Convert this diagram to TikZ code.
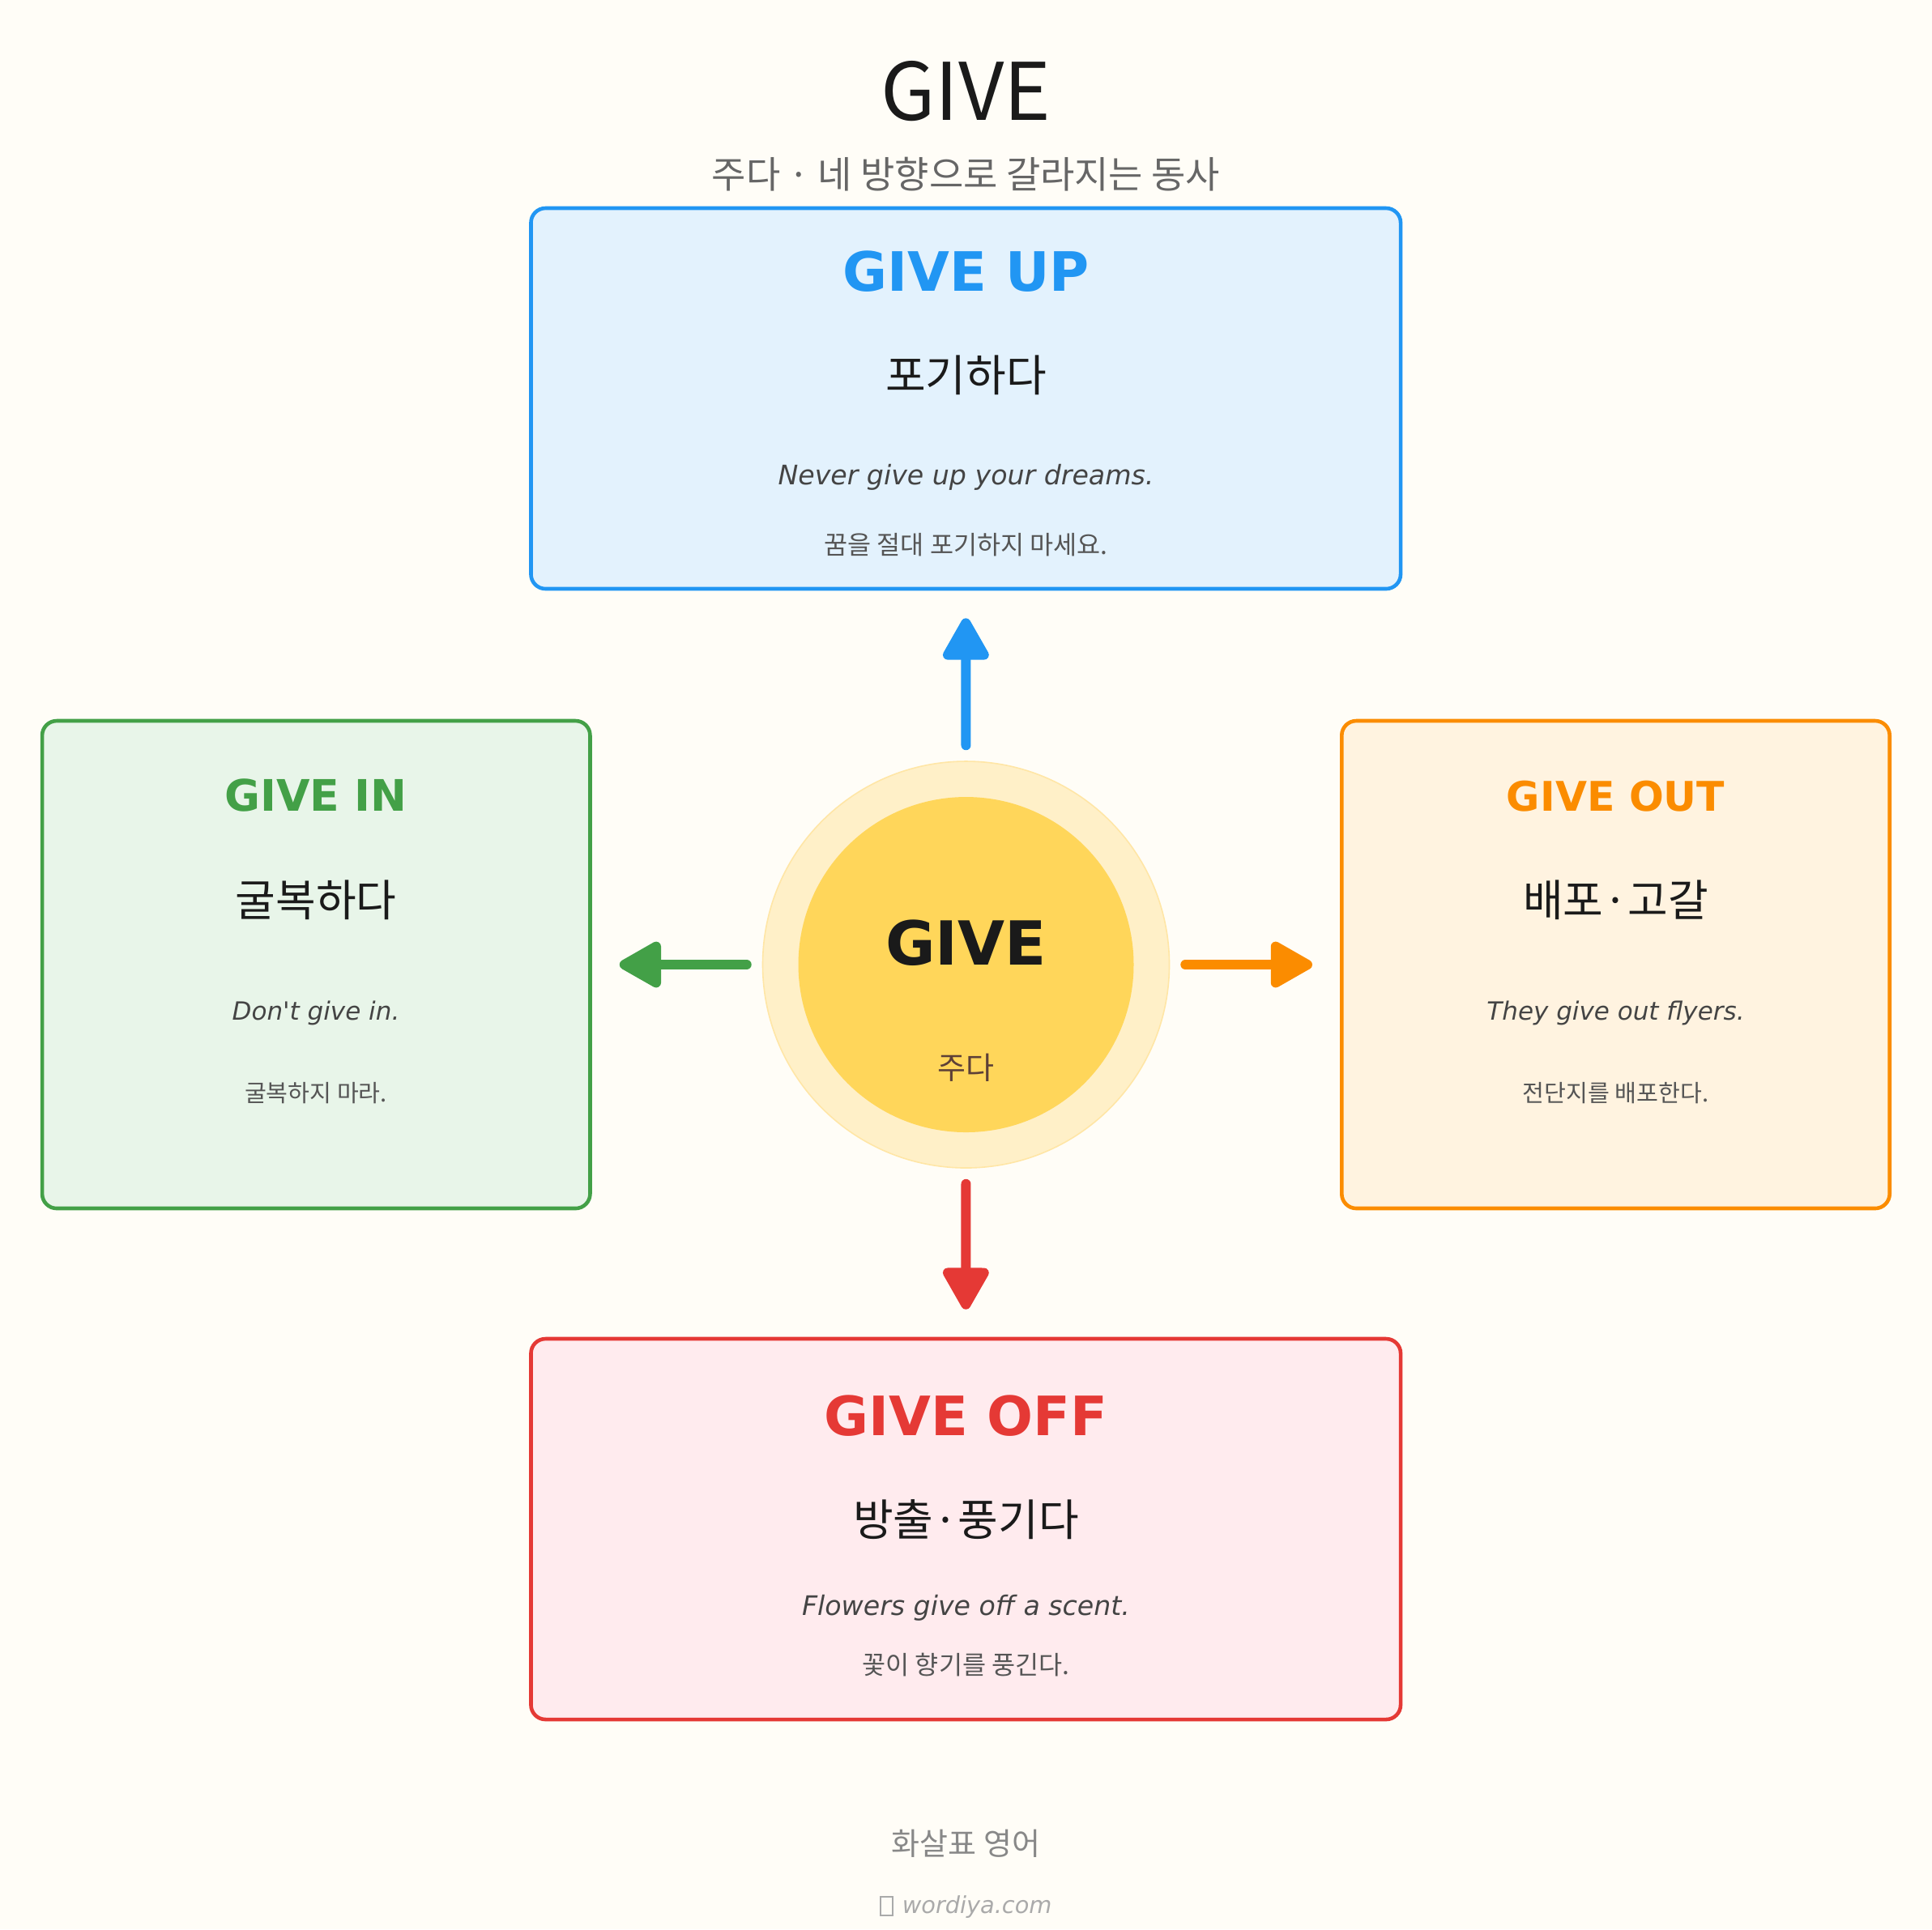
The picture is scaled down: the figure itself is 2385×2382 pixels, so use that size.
\documentclass[tikz,border=0pt]{standalone}
\usepackage{fontspec}
\setmainfont{DejaVu Sans}
\newfontfamily\dvplain{DejaVu Sans}
\newfontfamily\kr{Noto Sans CJK KR}
\usetikzlibrary{arrows.meta}
\definecolor{bg}{HTML}{FFFDF7}
\definecolor{cblue}{HTML}{2196F3}
\definecolor{fblue}{HTML}{E3F2FD}
\definecolor{cgreen}{HTML}{43A047}
\definecolor{fgreen}{HTML}{E8F5E9}
\definecolor{corange}{HTML}{FB8C00}
\definecolor{forange}{HTML}{FFF3E0}
\definecolor{cred}{HTML}{E53935}
\definecolor{fred}{HTML}{FFEBEE}
\definecolor{halofill}{HTML}{FFF0C8}
\definecolor{halodraw}{HTML}{FFE6A6}
\definecolor{corefill}{HTML}{FFD65A}
\definecolor{dark}{HTML}{1A1A1A}
\definecolor{extxt}{HTML}{444444}
\definecolor{kextxt}{HTML}{555555}
\definecolor{subtxt}{HTML}{666666}
\definecolor{foottxt}{HTML}{888888}
\definecolor{webtxt}{HTML}{AAAAAA}
\definecolor{brown}{HTML}{5D4037}
\newcommand\fsz[1]{\fontsize{#1}{#1}\selectfont}
\begin{document}
\begin{tikzpicture}[x=0.25pt,y=-0.25pt,
  txt/.style={inner sep=0pt, anchor=base},
  card/.style={draw=#1, line width=1.15pt, rounded corners=4.5pt, inner sep=0pt},
  widecard/.style={card=#1, minimum width=268.4pt, minimum height=117.5pt},
  sidecard/.style={card=#1, minimum width=169.1pt, minimum height=150.5pt},
  arr/.style={draw=#1, line width=3pt, line cap=round,
    -{Triangle[length=14.5pt, width=15.5pt, round]},
    shorten <=4.75pt, shorten >=8.5pt},
  head/.style={txt, font=\bfseries\fsz{#1}},
  mean/.style={txt, font=\kr\fsz{13.5}, text=dark},
  ex/.style={txt, font=\dvplain\itshape\fsz{#1}, text=extxt},
  kex/.style={txt, font=\kr\fsz{#1}, text=kextxt}]
\fill[bg] (0,0) rectangle (2385,2382);
\useasboundingbox (0,0) rectangle (2385,2382);

% title
\node[txt, font=\kr\fsz{24.5}, text=dark] (title) at (1192.5,148) {GIVE};
\node[txt, font=\kr\fsz{11.5}, text=subtxt] (subtitle) at (1192.5,232) {주다 · 네 방향으로 갈라지는 동사};

% cards
\node[widecard=cblue, fill=fblue] (up) at (1192.25,492) {};
\node[sidecard=cgreen, fill=fgreen] (in) at (390.25,1191) {};
\node[sidecard=corange, fill=forange] (out) at (1994.5,1191) {};
\node[widecard=cred, fill=fred] (off) at (1192.25,1888) {};

% GIVE UP
\node[head=16.75, text=cblue] (upT) at (1192.5,359) {GIVE UP};
\node[mean] (upM) at (1192.5,483) {포기하다};
\node[ex=8.3] (upE) at (1192.5,598) {Never give up your dreams.};
\node[kex=7.9] (upK) at (1192.5,684) {꿈을 절대 포기하지 마세요.};

% GIVE IN
\node[head=13.4, text=cgreen] (inT) at (390,1001) {GIVE IN};
\node[mean] (inM) at (390,1131) {굴복하다};
\node[ex=7.75] (inE) at (390,1259.5) {Don't give in.};
\node[kex=7.3] (inK) at (390,1360) {굴복하지 마라.};

% GIVE OUT
\node[head=12.6, text=corange] (outT) at (1994.5,1001) {GIVE OUT};
\node[mean] (outM) at (1994.5,1131) {배포·고갈};
\node[ex=7.75] (outE) at (1994.5,1259.5) {They give out flyers.};
\node[kex=7.3] (outK) at (1994.5,1360) {전단지를 배포한다.};

% GIVE OFF
\node[head=16.75, text=cred] (offT) at (1192.5,1772) {GIVE OFF};
\node[mean] (offM) at (1192.5,1896) {방출·풍기다};
\node[ex=8.3] (offE) at (1192.5,1994) {Flowers give off a scent.};
\node[kex=7.9] (offK) at (1192.5,2067) {꽃이 향기를 풍긴다.};

% center
\node[circle, minimum size=125.5pt, inner sep=0pt, fill=halofill, draw=halodraw, line width=0.4pt] (halo) at (1192.5,1191) {};
\node[circle, minimum size=103.5pt, inner sep=0pt, fill=corefill] (core) at (1192.5,1191) {};
\node[head=18.75, text=dark] (coreT) at (1192.5,1191) {GIVE};
\node[txt, font=\kr\fsz{9.5}, text=brown] (coreK) at (1192.5,1332) {주다};

% arrows
\draw[arr=cblue] (halo.north) -- (up.south);
\draw[arr=cgreen] (halo.west) -- (in.east);
\draw[arr=corange] (halo.east) -- (out.west);
\draw[arr=cred] (halo.south) -- (off.north);

% footer
\node[txt, font=\kr\fsz{9.5}, text=foottxt] (foot) at (1192.5,2290) {화살표 영어};
\node[draw=webtxt, line width=0.45pt, inner sep=0pt, minimum width=3.6pt, minimum height=5.6pt] (tofu) at (1094.5,2353.5) {};
\node[txt, anchor=base west, font=\itshape\fsz{7.2}, text=webtxt] (web) at (1113,2362) {wordiya.com};
\end{tikzpicture}
\end{document}
